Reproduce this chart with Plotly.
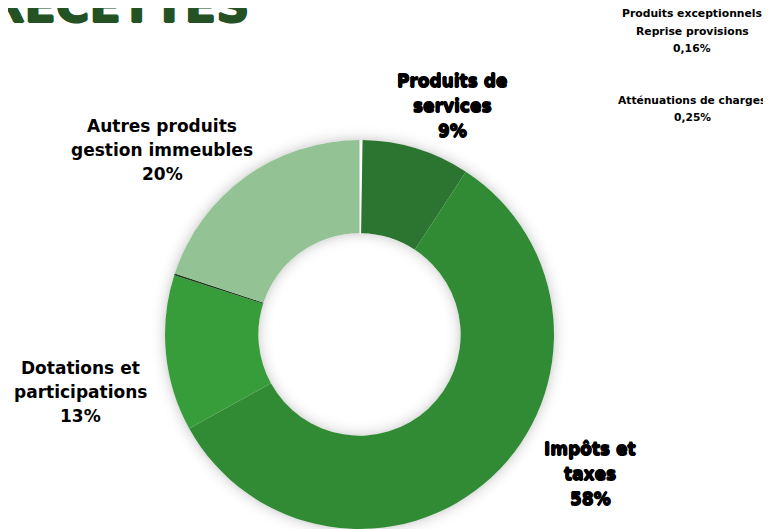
import plotly.graph_objects as go

# page body has an 8px default margin: figure spans the rest of the 771x529 window
OFF = 8
W, H = 771 - OFF, 529 - OFF

# ---- data ----
labels = ["Atténuations de charges", "Produits de services", "Impôts et taxes",
          "Dotations et participations", "Produits exceptionnels Reprise provisions",
          "Autres produits gestion immeubles"]
values = [0.25, 9, 58, 13, 0.16, 20]
pct_text = ["0,25%", "9%", "58%", "13%", "0,16%", "20%"]
label_lines = [["Atténuations de charges"], ["Produits de", "services"], ["Impôts et", "taxes"],
               ["Dotations et", "participations"], ["Produits exceptionnels", "Reprise provisions"],
               ["Autres produits", "gestion immeubles"]]
colors = ["#ffffff", "#2b7530", "#318a34", "#379c3a", "#1e3a1e", "#93c394"]
title_text = "RECETTES"

# ---- layout constants (window pixels) ----
cx, cy_top = 359.5 - OFF, 334.5 - OFF
R = 194.5
hole = 0.52

dom_x = [(cx - R) / W, (cx + R) / W]
dom_y = [max(0, 1 - (cy_top + R) / H), 1 - (cy_top - R) / H]

fig = go.Figure()
fig.add_trace(go.Pie(
    labels=labels, values=values, sort=False, direction="clockwise", rotation=0,
    hole=hole, marker=dict(colors=colors, line=dict(width=0)),
    textinfo="none", hoverinfo="label+percent", domain=dict(x=dom_x, y=dom_y),
    showlegend=False,
))

# soft glow/shadow around ring
def circle(r, lw, alpha):
    return dict(type="circle", xref="paper", yref="paper", layer="below",
                x0=(cx - r) / W, x1=(cx + r) / W,
                y0=1 - (cy_top + r) / H, y1=1 - (cy_top - r) / H,
                line=dict(color=f"rgba(0,0,0,{alpha})", width=lw))

shapes = []
r_in = R * hole
for k, a in zip([1, 3, 5, 7, 9, 11, 13], [0.11, 0.08, 0.055, 0.035, 0.022, 0.012, 0.006]):
    shapes.append(circle(R + k, 2, a))
    shapes.append(circle(r_in - k, 2, a))

# label placement: (center x px, first line center y px, line spacing px, font size, heavy)
placements = [
    (692, 101, 16, 10.7, False),
    (452, 81, 25, 17, True),
    (590, 449, 25, 17, True),
    (80, 368, 24, 17, False),
    (692, 14, 17, 10.8, False),
    (162, 126, 24, 17, False),
]

annotations = []
for lines, pct, (px, py, sp, fs, heavy) in zip(label_lines, pct_text, placements):
    for i, t in enumerate(lines + [pct]):
        font = dict(family="DejaVu Sans", size=fs, color="black", weight="bold")
        if heavy:
            font["shadow"] = "0.6px 0 0 #000, -0.6px 0 0 #000, 0 0.6px 0 #000, 0 -0.6px 0 #000"
        annotations.append(dict(
            x=(px - OFF) / W, y=1 - (py - OFF + i * sp) / H, xref="paper", yref="paper",
            text=t, showarrow=False, xanchor="center", yanchor="middle", font=font))

annotations.append(dict(
    x=(251 - OFF) / W, y=1 - (6.4 - OFF) / H, xref="paper", yref="paper", text=title_text,
    showarrow=False, xanchor="right", yanchor="middle",
    font=dict(family="DejaVu Sans", size=46, color="#245224", weight="bold",
              shadow="1px 0 0 #245224, -1px 0 0 #245224, 0 1px 0 #245224, 0 -1px 0 #245224")))

fig.update_layout(
    width=W, height=H, margin=dict(l=0, r=0, t=0, b=0),
    paper_bgcolor="white", plot_bgcolor="white",
    shapes=shapes, annotations=annotations, showlegend=False,
)

fig.write_html("out.html")
